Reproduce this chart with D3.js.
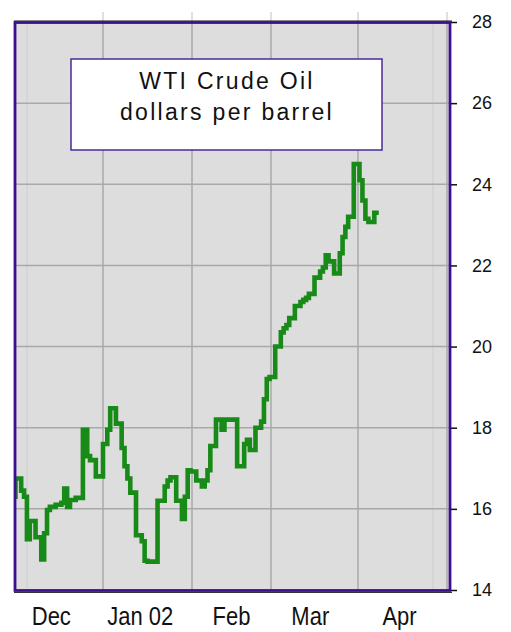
<!DOCTYPE html>
<html>
<head>
<meta charset="utf-8">
<script src="https://cdn.jsdelivr.net/npm/d3@7"></script>
<style>
  html, body { margin: 0; padding: 0; background: #ffffff; }
  svg { display: block; }
</style>
</head>
<body>
<svg id="chart" width="511" height="632"></svg>
<script>
// ---------------- DATA ----------------
const dates = [
  "2001-11-30","2001-12-03","2001-12-04","2001-12-05","2001-12-06","2001-12-07",
  "2001-12-10","2001-12-11","2001-12-12","2001-12-13","2001-12-14",
  "2001-12-17","2001-12-18","2001-12-19","2001-12-20","2001-12-21",
  "2001-12-24","2001-12-26","2001-12-27","2001-12-28","2001-12-31",
  "2002-01-02","2002-01-03","2002-01-04",
  "2002-01-07","2002-01-08","2002-01-09","2002-01-10","2002-01-11",
  "2002-01-14","2002-01-15","2002-01-16","2002-01-17","2002-01-18",
  "2002-01-22","2002-01-23","2002-01-24","2002-01-25",
  "2002-01-28","2002-01-29","2002-01-30","2002-01-31","2002-02-01",
  "2002-02-04","2002-02-05","2002-02-06","2002-02-07","2002-02-08",
  "2002-02-11","2002-02-12","2002-02-13","2002-02-14","2002-02-15",
  "2002-02-19","2002-02-20","2002-02-21","2002-02-22",
  "2002-02-25","2002-02-26","2002-02-27","2002-02-28","2002-03-01",
  "2002-03-04","2002-03-05","2002-03-06","2002-03-07","2002-03-08",
  "2002-03-11","2002-03-12","2002-03-13","2002-03-14","2002-03-15",
  "2002-03-18","2002-03-19","2002-03-20","2002-03-21","2002-03-22",
  "2002-03-25","2002-03-26","2002-03-27","2002-03-28","2002-03-29",
  "2002-04-01","2002-04-02","2002-04-03","2002-04-04","2002-04-05",
  "2002-04-08"
];
const prices = [
  16.3, 16.75, 16.45, 16.3, 15.25, 15.7,
  15.3, 14.75, 15.4, 15.97, 16.05,
  16.1, 16.15, 16.5, 16.05, 16.22,
  16.27, 17.95, 17.3, 17.2, 16.8,
  17.6, 17.95, 18.48,
  18.1, 17.5, 17.05, 16.75, 16.4,
  15.35, 15.2, 14.72, 14.7, 14.7,
  16.2, 16.55, 16.7, 16.78,
  16.2, 15.75, 16.3, 16.95, 16.92,
  16.7, 16.55, 16.7, 16.95, 17.55,
  18.2, 17.95, 18.2, 18.2, 18.2,
  17.05, 17.6, 17.7, 17.45,
  18.0, 18.15, 18.7, 19.2, 19.25,
  20.0, 20.35, 20.45, 20.53, 20.7,
  21.0, 21.1, 21.15, 21.2, 21.3,
  21.7, 21.85, 21.95, 22.25, 22.1,
  21.8, 22.3, 22.7, 22.95, 23.2,
  24.5, 24.1, 23.6, 23.15, 23.07,
  23.3
];
const monthStarts = ["2001-12-01","2002-01-01","2002-02-01","2002-03-01","2002-04-01","2002-05-01"];
const monthLabels = ["Dec","Jan 02","Feb","Mar","Apr"];
const monthLabelDates = ["2001-12-14","2002-01-14","2002-02-15","2002-03-15","2002-04-15"];
const yTicks = [14, 16, 18, 20, 22, 24, 26, 28];
const titleLines = ["WTI Crude Oil", "dollars per barrel"];

// ---------------- SETUP ----------------
const parse = d3.timeParse("%Y-%m-%d");
const data = dates.map((d, i) => ({ date: parse(d), value: prices[i] }));
const svg = d3.select("#chart");

const plot = { left: 15, right: 450, top: 22, bottom: 590 };

const x = d3.scaleTime()
  .domain(monthStarts.map(parse))
  .range([14, 103, 192, 271, 358, 447]);
const y = d3.scaleLinear().domain([14, 28]).range([590, 22]);

const purple = "#3d0f8f";

svg.append("rect").attr("width", 511).attr("height", 632).attr("fill", "#ffffff");

svg.append("rect")
  .attr("x", plot.left).attr("y", plot.top)
  .attr("width", plot.right - plot.left).attr("height", plot.bottom - plot.top)
  .attr("fill", "#dddddd");

svg.append("g").selectAll("line")
  .data([27, 433])
  .join("line")
  .attr("x1", d => d).attr("x2", d => d)
  .attr("y1", plot.top).attr("y2", plot.bottom)
  .attr("stroke", "#d2d2d2").attr("stroke-width", 1.5);

svg.append("g").selectAll("line")
  .data(yTicks.filter(v => v > 14 && v < 28))
  .join("line")
  .attr("x1", plot.left).attr("x2", plot.right)
  .attr("y1", d => y(d)).attr("y2", d => y(d))
  .attr("stroke", "#a9a9a9").attr("stroke-width", 1.5);

svg.append("g").selectAll("line")
  .data(monthStarts.slice(1).map(parse))
  .join("line")
  .attr("x1", d => x(d)).attr("x2", d => x(d))
  .attr("y1", plot.top).attr("y2", plot.bottom)
  .attr("stroke", "#a9a9a9").attr("stroke-width", 1.5);

svg.append("g").selectAll("line")
  .data(monthStarts.slice(1).map(parse))
  .join("line")
  .attr("x1", d => x(d)).attr("x2", d => x(d))
  .attr("y1", 12).attr("y2", plot.top)
  .attr("stroke", "#d6d6d6").attr("stroke-width", 1.5);

svg.append("defs").append("clipPath").attr("id", "clip")
  .append("rect")
  .attr("x", plot.left + 1).attr("y", plot.top)
  .attr("width", plot.right - plot.left - 1).attr("height", plot.bottom - plot.top);

const line = d3.line()
  .x(d => x(d.date))
  .y(d => y(d.value))
  .curve(d3.curveStep);

svg.append("path")
  .datum(data)
  .attr("clip-path", "url(#clip)")
  .attr("d", line)
  .attr("fill", "none")
  .attr("stroke", "#178a17")
  .attr("stroke-width", 4.6)
  .attr("stroke-linejoin", "miter");

svg.append("line").attr("x1", plot.left - 1).attr("x2", plot.right + 2)
  .attr("y1", 21).attr("y2", 21).attr("stroke", "#111").attr("stroke-width", 1.2);
svg.append("rect")
  .attr("x", plot.left).attr("y", plot.top + 0.5)
  .attr("width", plot.right - plot.left).attr("height", plot.bottom - plot.top)
  .attr("fill", "none").attr("stroke", purple).attr("stroke-width", 2.8);
svg.append("line").attr("x1", plot.left - 1).attr("x2", plot.right + 2)
  .attr("y1", plot.bottom + 2.5).attr("y2", plot.bottom + 2.5)
  .attr("stroke", "#333").attr("stroke-width", 1);

const yAxis = d3.axisRight(y).tickValues(yTicks).tickSize(6).tickPadding(15).tickFormat(d3.format("d"));
const yg = svg.append("g").attr("transform", `translate(${plot.right + 1},0)`).call(yAxis);
yg.select(".domain").remove();
yg.selectAll(".tick line").attr("stroke", "#111").attr("stroke-width", 1.5);
yg.selectAll(".tick text")
  .attr("font-family", "'Liberation Sans', Arial, sans-serif")
  .attr("font-size", 18).attr("fill", "#111");

svg.append("g").selectAll("text")
  .data(monthLabels)
  .join("text")
  .attr("transform", (d, i) => `translate(${x(parse(monthLabelDates[i]))},625) scale(1,1.2)`)
  .attr("text-anchor", "middle")
  .attr("font-family", "'Liberation Sans', Arial, sans-serif")
  .attr("font-size", 22)
  .attr("fill", "#111")
  .text(d => d);

svg.append("rect")
  .attr("x", 71).attr("y", 59).attr("width", 311).attr("height", 91)
  .attr("fill", "#ffffff").attr("stroke", "#4a2a9a").attr("stroke-width", 1.5);
svg.append("g").selectAll("text")
  .data(titleLines)
  .join("text")
  .attr("x", 227)
  .attr("y", (d, i) => 89 + i * 31)
  .attr("text-anchor", "middle")
  .attr("font-family", "'Liberation Sans', Arial, sans-serif")
  .attr("font-size", 23)
  .attr("letter-spacing", 2.3)
  .attr("fill", "#111")
  .text(d => d);
</script>
</body>
</html>
